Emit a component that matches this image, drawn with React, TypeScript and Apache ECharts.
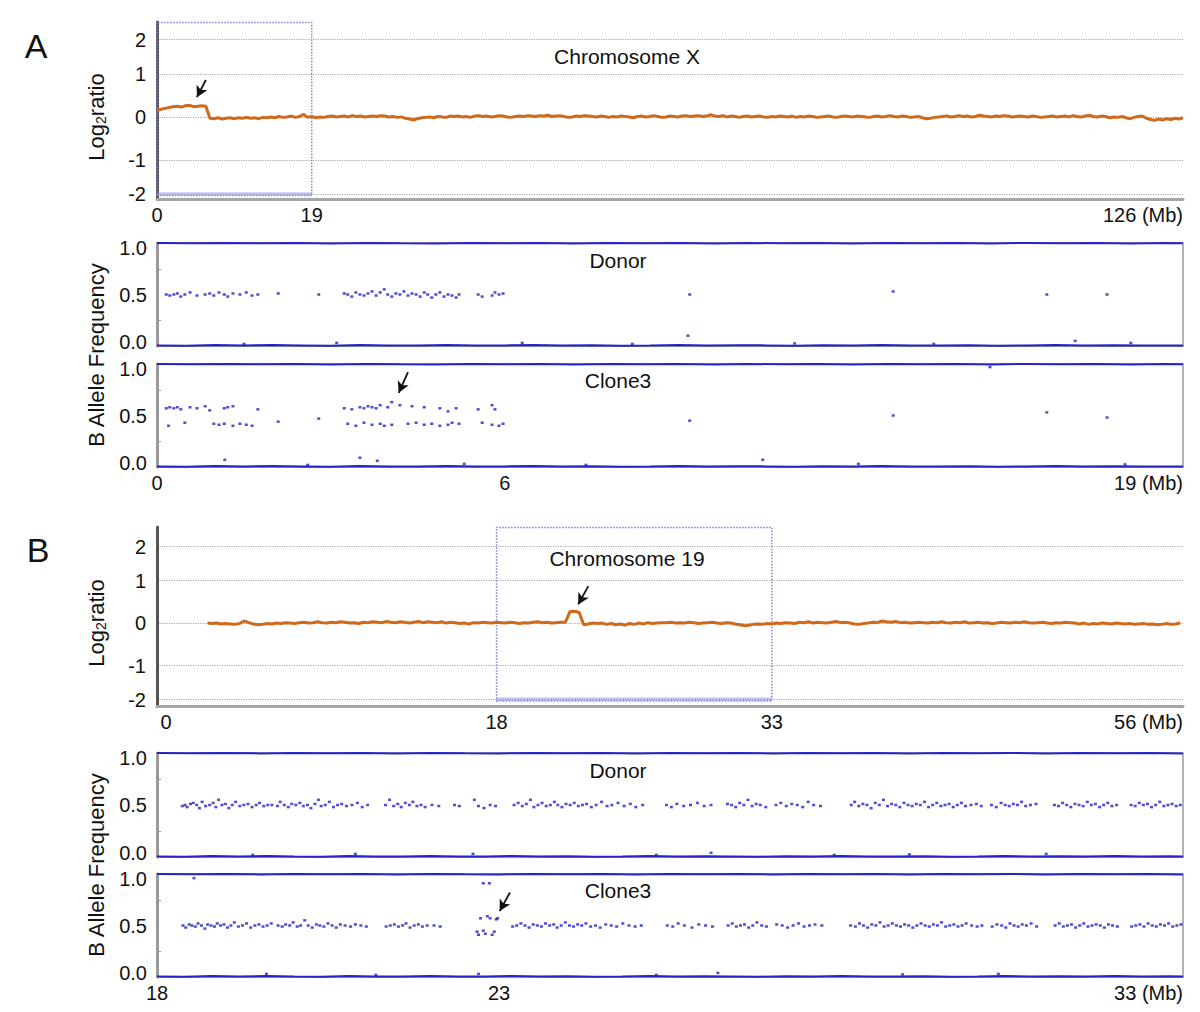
import React, { useEffect, useRef } from 'react';
import * as echarts from 'echarts';

const FONT = '"Liberation Sans", Arial, Helvetica, sans-serif';
const ORANGE = '#cf6a1c';
const BLUE_HOM = '#2424c8';
const BLUE_HET = '#2222c4';
const GRAY_AXIS = '#9a9a9a';

// ---------- Panel A : chromosome X, log2 ratio (positions every 0.5 Mb from 0)
const LOG_A_START = 0;
const LOG_A_STEP = 0.5;
const LOG_A_VALUES = [
  0.15, 0.18, 0.2, 0.22, 0.24, 0.25, 0.23, 0.26, 0.27, 0.24, 0.25, 0.26, 0.25,
  -0.03, -0.04, -0.02, -0.05, -0.03, -0.02, -0.04, -0.02, -0.03, -0.01, -0.03, -0.02, -0.04, -0.01, -0.02, 0.0, -0.02, 0.01, -0.01, 0.0,
  0.02, -0.01, 0.01, 0.06, -0.01, 0.01, -0.02, 0.0, -0.01, 0.01, 0.02, 0.0, 0.01, 0.02, 0.0, 0.03, 0.01, 0.02, 0.0, 0.01,
  0.02, 0.01, 0.03, 0.02, 0.0, 0.01, -0.01, 0.0, -0.03, -0.05, -0.07, -0.04, -0.02, -0.01, 0.0, -0.02, 0.01, 0.0, -0.01, 0.02,
  0.01, 0.02, 0.0, 0.01, -0.01, 0.02, 0.03, 0.01, 0.02, 0.0, 0.01, 0.03, 0.02, 0.0, -0.01, 0.01, 0.02, 0.01, 0.03, 0.02,
  0.01, 0.03, 0.02, 0.04, 0.01, 0.02, 0.03, 0.01, -0.01, 0.0, 0.02, 0.01, 0.03, 0.02, 0.01, 0.0, 0.02, 0.01, -0.01, 0.01,
  0.0, 0.02, 0.01, 0.0, -0.02, 0.01, 0.02, 0.0, 0.01, 0.03, 0.01, -0.01, 0.0, 0.02, 0.01, 0.0, 0.02, 0.03, 0.01, 0.02,
  0.03, 0.01, 0.02, 0.05, 0.02, 0.01, 0.03, 0.0, 0.02, 0.01, -0.01, 0.01, 0.02, 0.0, 0.01, 0.02, 0.0, -0.01, 0.01, 0.0,
  0.02, 0.01, 0.0, 0.02, -0.01, 0.01, 0.0, 0.02, 0.01, -0.01, 0.0, 0.01, 0.02, 0.0, -0.01, 0.01, 0.02, 0.01, 0.0, 0.02,
  0.01, 0.0, -0.01, 0.01, 0.02, 0.0, 0.01, 0.03, 0.01, 0.0, 0.02, 0.01, -0.01, 0.0, 0.01, -0.02, -0.04, -0.03, -0.01, 0.0,
  0.01, 0.02, 0.0, 0.01, 0.03, 0.01, 0.02, 0.0, 0.01, 0.04, 0.02, 0.01, 0.0, 0.02, 0.01, 0.03, 0.02, 0.0, 0.01, 0.02,
  0.01, 0.0, 0.02, 0.01, -0.01, 0.0, 0.01, 0.02, 0.0, 0.01, 0.02, 0.0, 0.03, 0.01, 0.0, 0.02, 0.04, 0.01, 0.0, 0.02,
  0.01, -0.02, 0.0, -0.01, 0.01, -0.02, -0.04, -0.01, 0.01, 0.02, -0.03, -0.06, -0.08, -0.05, -0.07, -0.04, -0.06, -0.03, -0.05, -0.02,
];

// ---------- Panel B : chromosome 19, log2 ratio (positions every 0.25 Mb from 2.25)
const LOG_B_START = 2.25;
const LOG_B_STEP = 0.25;
const LOG_B_VALUES = [
  0.0, -0.01, 0.0, -0.02, -0.01, -0.02, -0.03, -0.01, 0.05, 0.01, -0.02, -0.04, -0.03, -0.01, -0.02, 0.0, -0.01, 0.01, 0.0, -0.01,
  0.01, 0.02, 0.0, 0.01, 0.03, 0.01, 0.0, 0.02, 0.01, 0.03, 0.02, 0.0, 0.01, -0.01, 0.02, 0.01, 0.03, 0.02, 0.01, 0.04,
  0.02, 0.01, 0.03, 0.02, 0.0, 0.02, 0.04, 0.01, 0.03, 0.02, 0.01, 0.03, 0.0, 0.02, 0.01, -0.01, 0.0, -0.02, 0.01, 0.0,
  0.02, 0.01, 0.0, 0.02, 0.01, 0.0, 0.02, 0.01, -0.01, 0.01, 0.0, 0.02, 0.03, 0.01, 0.02, 0.0, 0.01, 0.02, 0.02, 0.27,
  0.28, 0.25, -0.04, -0.02, 0.0, -0.01, 0.0, -0.03, -0.01, -0.04, -0.02, -0.05, -0.01, -0.03, 0.0, -0.02, 0.01, -0.01, 0.0, 0.01,
  0.01, 0.02, 0.0, 0.01, 0.0, 0.02, 0.01, -0.01, 0.0, 0.01, 0.02, 0.0, -0.01, 0.01, 0.0, -0.02, -0.04, -0.06, -0.05, -0.03,
  -0.02, -0.03, -0.01, -0.02, 0.0, -0.01, 0.01, 0.0, -0.01, 0.02, 0.01, 0.03, 0.0, 0.02, 0.01, 0.0, 0.02, 0.04, 0.01, 0.02,
  0.0, -0.02, -0.03, -0.01, 0.0, 0.02, 0.01, 0.05, 0.03, 0.02, 0.04, 0.01, 0.02, 0.0, 0.01, 0.02, 0.01, 0.0, 0.02, 0.01,
  0.03, 0.01, 0.0, 0.02, 0.01, 0.03, 0.0, 0.01, 0.02, 0.0, 0.01, -0.01, 0.0, 0.02, 0.01, 0.0, 0.02, 0.01, 0.03, 0.01,
  0.0, 0.01, 0.02, 0.0, -0.01, 0.01, 0.0, 0.02, 0.01, 0.0, -0.02, 0.0, -0.03, -0.01, -0.02, 0.0, -0.01, -0.02, 0.0, -0.01,
  -0.02, -0.01, -0.03, -0.02, -0.01, -0.03, -0.02, -0.04, -0.03, -0.01, -0.03, -0.02, 0.0,
];

const LOG_TICKS = [-2, -1, 0, 1, 2];
const BAF_TICKS = [0, 0.5, 1];
const BAF_MINOR = [0.25, 0.75];

// ---------- Panel A : B allele frequency (Mb, BAF)
const HOM_X_TOP = [
  [0, 1], [0.6, 0.997], [1.2, 1], [1.8, 0.997], [2.4, 1], [3.0, 0.996], [3.6, 1], [4.2, 0.997], [4.8, 0.996], [5.4, 1],
  [6.0, 0.997], [6.6, 1], [7.2, 0.996], [7.8, 1], [8.4, 0.997], [9.0, 1], [9.6, 0.996], [10.2, 1], [10.8, 0.997], [11.4, 1],
  [12.0, 0.996], [12.6, 1], [13.2, 0.997], [13.8, 1], [14.4, 0.996], [15.0, 1], [15.6, 0.997], [16.2, 1], [16.8, 0.996], [17.4, 1], [17.7, 0.997],
];
const HOM_X_BOT = [
  [0, 0.006], [0.5, 0.003], [1.0, 0.009], [1.5, 0.004], [2.0, 0.01], [2.5, 0.006], [3.0, 0.003], [3.5, 0.009], [4.0, 0.004], [4.5, 0.006],
  [5.0, 0.01], [5.5, 0.004], [6.0, 0.006], [6.5, 0.01], [7.0, 0.004], [7.5, 0.008], [8.0, 0.003], [8.5, 0.006], [9.0, 0.01], [9.5, 0.004],
  [10.0, 0.008], [10.5, 0.006], [11.0, 0.003], [11.5, 0.008], [12.0, 0.006], [12.5, 0.01], [13.0, 0.004], [13.5, 0.006], [14.0, 0.008],
  [14.5, 0.003], [15.0, 0.006], [15.5, 0.01], [16.0, 0.004], [16.5, 0.008], [17.0, 0.006], [17.7, 0.004],
];
const DONOR_A = [
  [0.16, 0.5], [0.22, 0.49], [0.29, 0.5], [0.35, 0.51], [0.41, 0.48], [0.48, 0.5], [0.57, 0.52], [0.69, 0.49], [0.83, 0.5],
  [0.91, 0.51], [0.98, 0.49], [1.07, 0.52], [1.16, 0.5], [1.22, 0.48], [1.31, 0.51], [1.43, 0.5], [1.54, 0.52], [1.64, 0.49], [1.74, 0.5],
  [2.09, 0.51], [2.79, 0.5],
  [3.23, 0.51], [3.29, 0.5], [3.36, 0.48], [3.43, 0.52], [3.5, 0.5], [3.57, 0.49], [3.64, 0.51], [3.71, 0.53], [3.78, 0.49], [3.85, 0.52],
  [3.92, 0.55], [3.98, 0.5], [4.05, 0.48], [4.12, 0.51], [4.19, 0.5], [4.26, 0.53], [4.33, 0.49], [4.4, 0.51], [4.47, 0.5], [4.54, 0.48],
  [4.61, 0.52], [4.67, 0.5], [4.74, 0.47], [4.81, 0.5], [4.88, 0.52], [4.95, 0.48], [5.02, 0.5], [5.09, 0.49], [5.16, 0.47], [5.21, 0.5],
  [5.54, 0.5], [5.61, 0.48], [5.78, 0.49], [5.83, 0.52], [5.9, 0.5], [5.97, 0.51],
  [9.19, 0.5], [12.7, 0.53], [15.35, 0.5], [16.39, 0.5], [9.16, 0.1], [15.84, 0.05],
  [1.5, 0.02], [3.1, 0.03], [6.3, 0.03], [8.2, 0.02], [11.0, 0.025], [13.4, 0.02], [16.8, 0.03],
];
const CLONE3_A = [
  [0.16, 0.57], [0.2, 0.4], [0.22, 0.58], [0.29, 0.57], [0.35, 0.58], [0.41, 0.56], [0.48, 0.43], [0.57, 0.58], [0.69, 0.57],
  [0.83, 0.59], [0.91, 0.55], [0.98, 0.42], [1.07, 0.41], [1.16, 0.57], [1.16, 0.42], [1.22, 0.58], [1.31, 0.59], [1.31, 0.4],
  [1.43, 0.42], [1.54, 0.41], [1.64, 0.4], [1.74, 0.56], [2.09, 0.44], [2.79, 0.47],
  [3.23, 0.57], [3.29, 0.42], [3.36, 0.56], [3.43, 0.4], [3.5, 0.58], [3.57, 0.57], [3.57, 0.43], [3.64, 0.59], [3.71, 0.41],
  [3.71, 0.58], [3.78, 0.57], [3.85, 0.6], [3.85, 0.42], [3.92, 0.4], [3.98, 0.58], [4.05, 0.63], [4.05, 0.41], [4.19, 0.6],
  [4.33, 0.42], [4.4, 0.59], [4.47, 0.43], [4.61, 0.58], [4.61, 0.41], [4.74, 0.42], [4.88, 0.57], [4.88, 0.4], [5.02, 0.54],
  [5.02, 0.41], [5.09, 0.43], [5.16, 0.57], [5.21, 0.42],
  [5.54, 0.56], [5.61, 0.43], [5.78, 0.6], [5.78, 0.41], [5.83, 0.56], [5.9, 0.4], [5.97, 0.42],
  [9.19, 0.45], [12.7, 0.5], [15.35, 0.53], [16.39, 0.48],
  [1.17, 0.07], [3.5, 0.09], [3.8, 0.06], [10.45, 0.07], [14.37, 0.97],
  [2.6, 0.02], [5.3, 0.03], [7.4, 0.02], [12.1, 0.03], [16.7, 0.025],
];

// ---------- Panel B : B allele frequency (Mb, BAF)
const HOM_19_TOP = [
  [18, 1], [18.5, 0.997], [19, 1], [19.5, 0.996], [20, 1], [20.5, 0.997], [21, 1], [21.5, 0.996], [22, 1], [22.5, 0.997],
  [23, 0.996], [23.5, 1], [24, 0.997], [24.5, 1], [25, 0.996], [25.5, 1], [26, 0.997], [26.5, 1], [27, 0.996], [27.5, 1],
  [28, 0.997], [28.5, 1], [29, 0.996], [29.5, 1], [30, 0.997], [30.5, 1], [31, 0.996], [31.5, 1], [32, 0.997], [32.5, 1], [33, 0.996],
];
const HOM_19_BOT = [
  [18, 0.006], [18.4, 0.003], [18.8, 0.009], [19.2, 0.004], [19.6, 0.01], [20, 0.006], [20.4, 0.003], [20.8, 0.009], [21.2, 0.004],
  [21.6, 0.006], [22, 0.01], [22.4, 0.004], [22.8, 0.006], [23.2, 0.01], [23.6, 0.004], [24, 0.008], [24.4, 0.003], [24.8, 0.006],
  [25.2, 0.01], [25.6, 0.004], [26, 0.008], [26.4, 0.006], [26.8, 0.003], [27.2, 0.008], [27.6, 0.006], [28, 0.01], [28.4, 0.004],
  [28.8, 0.006], [29.2, 0.008], [29.6, 0.003], [30, 0.006], [30.4, 0.01], [30.8, 0.004], [31.2, 0.008], [31.6, 0.006], [32, 0.01],
  [32.4, 0.004], [32.8, 0.008], [33, 0.006],
];
const DONOR_B = [
  [18.37, 0.49], [18.41, 0.5], [18.44, 0.48], [18.49, 0.51], [18.53, 0.52], [18.58, 0.5], [18.62, 0.47], [18.66, 0.53], [18.71, 0.49],
  [18.77, 0.5], [18.82, 0.52], [18.86, 0.48], [18.9, 0.55], [18.95, 0.5], [19.0, 0.51], [19.05, 0.47], [19.1, 0.5], [19.15, 0.53],
  [19.21, 0.49], [19.27, 0.5], [19.33, 0.51], [19.39, 0.48], [19.45, 0.5], [19.5, 0.52], [19.56, 0.49], [19.62, 0.5], [19.68, 0.5],
  [19.76, 0.49], [19.8, 0.53], [19.86, 0.5], [19.92, 0.48], [19.97, 0.51], [20.03, 0.5], [20.09, 0.52], [20.14, 0.49], [20.2, 0.5],
  [20.25, 0.47], [20.31, 0.51], [20.36, 0.55], [20.4, 0.49], [20.46, 0.5], [20.52, 0.53], [20.58, 0.48], [20.64, 0.5], [20.7, 0.51],
  [20.77, 0.49], [20.85, 0.5], [20.93, 0.52], [21.0, 0.48], [21.08, 0.5],
  [21.34, 0.5], [21.4, 0.55], [21.46, 0.49], [21.52, 0.51], [21.57, 0.48], [21.63, 0.52], [21.69, 0.5], [21.74, 0.53], [21.8, 0.49],
  [21.86, 0.5], [21.92, 0.48], [22.02, 0.5], [22.12, 0.49], [22.35, 0.5], [22.42, 0.49],
  [22.64, 0.55], [22.7, 0.49], [22.78, 0.47], [22.87, 0.5], [22.95, 0.49],
  [23.22, 0.5], [23.28, 0.52], [23.34, 0.49], [23.4, 0.51], [23.46, 0.55], [23.51, 0.48], [23.57, 0.5], [23.63, 0.52], [23.69, 0.49],
  [23.75, 0.5], [23.81, 0.53], [23.86, 0.5], [23.92, 0.48], [23.98, 0.51], [24.04, 0.5], [24.1, 0.52], [24.16, 0.49], [24.22, 0.5],
  [24.28, 0.51], [24.35, 0.48], [24.42, 0.5], [24.5, 0.53], [24.58, 0.49], [24.65, 0.5], [24.74, 0.52], [24.83, 0.49], [24.92, 0.51],
  [25.0, 0.48], [25.1, 0.5],
  [25.45, 0.5], [25.52, 0.48], [25.6, 0.51], [25.7, 0.49], [25.8, 0.5], [25.9, 0.52], [26.0, 0.49], [26.1, 0.5],
  [26.34, 0.51], [26.4, 0.5], [26.46, 0.48], [26.52, 0.52], [26.58, 0.5], [26.64, 0.55], [26.7, 0.49], [26.76, 0.51], [26.82, 0.5], [26.9, 0.48],
  [27.05, 0.5], [27.12, 0.52], [27.2, 0.49], [27.28, 0.51], [27.36, 0.5], [27.44, 0.48], [27.52, 0.53], [27.6, 0.5], [27.7, 0.49],
  [28.15, 0.5], [28.2, 0.53], [28.26, 0.49], [28.32, 0.51], [28.38, 0.5], [28.44, 0.47], [28.5, 0.52], [28.56, 0.5], [28.62, 0.55],
  [28.68, 0.49], [28.74, 0.51], [28.8, 0.5], [28.86, 0.48], [28.92, 0.52], [28.98, 0.5], [29.04, 0.49], [29.1, 0.51], [29.16, 0.5],
  [29.22, 0.53], [29.28, 0.48], [29.34, 0.5], [29.4, 0.52], [29.46, 0.49], [29.52, 0.5], [29.58, 0.51], [29.64, 0.48], [29.7, 0.5],
  [29.76, 0.52], [29.82, 0.49], [29.9, 0.5], [29.98, 0.51], [30.05, 0.49],
  [30.2, 0.5], [30.27, 0.48], [30.34, 0.52], [30.4, 0.5], [30.46, 0.49], [30.52, 0.51], [30.58, 0.5], [30.64, 0.53], [30.7, 0.49],
  [30.77, 0.5], [30.85, 0.51],
  [31.12, 0.5], [31.18, 0.49], [31.24, 0.52], [31.3, 0.5], [31.36, 0.48], [31.42, 0.51], [31.48, 0.5], [31.54, 0.49], [31.6, 0.53],
  [31.66, 0.5], [31.72, 0.51], [31.78, 0.48], [31.84, 0.5], [31.9, 0.52], [31.96, 0.49], [32.03, 0.5],
  [32.24, 0.5], [32.3, 0.49], [32.36, 0.52], [32.42, 0.5], [32.48, 0.51], [32.54, 0.48], [32.6, 0.5], [32.66, 0.53], [32.72, 0.49],
  [32.78, 0.5], [32.84, 0.51], [32.9, 0.49], [32.96, 0.5],
  [22.62, 0.03], [25.3, 0.02], [26.1, 0.04], [29.0, 0.025], [19.4, 0.02], [20.9, 0.03], [27.9, 0.02], [31.0, 0.03],
];
const CLONE3_B = [
  [18.38, 0.5], [18.42, 0.48], [18.47, 0.51], [18.51, 0.5], [18.56, 0.49], [18.6, 0.52], [18.65, 0.5], [18.7, 0.47], [18.74, 0.51],
  [18.79, 0.5], [18.84, 0.49], [18.88, 0.52], [18.93, 0.5], [18.98, 0.51], [19.03, 0.48], [19.08, 0.5], [19.13, 0.53], [19.19, 0.49],
  [19.25, 0.5], [19.31, 0.52], [19.37, 0.48], [19.43, 0.5], [19.49, 0.51], [19.55, 0.49], [19.61, 0.5], [19.67, 0.52],
  [19.77, 0.5], [19.83, 0.49], [19.88, 0.51], [19.94, 0.5], [19.99, 0.53], [20.05, 0.49], [20.1, 0.5], [20.16, 0.55], [20.21, 0.5],
  [20.27, 0.48], [20.33, 0.51], [20.38, 0.5], [20.44, 0.49], [20.5, 0.52], [20.56, 0.5], [20.62, 0.48], [20.68, 0.51], [20.75, 0.5],
  [20.83, 0.49], [20.9, 0.51], [20.98, 0.5], [21.06, 0.49],
  [21.35, 0.49], [21.41, 0.5], [21.47, 0.51], [21.53, 0.49], [21.59, 0.5], [21.64, 0.52], [21.7, 0.48], [21.76, 0.5], [21.82, 0.51],
  [21.88, 0.49], [21.95, 0.5], [22.05, 0.5], [22.14, 0.49],
  [22.68, 0.44], [22.7, 0.41], [22.73, 0.57], [22.77, 0.45], [22.8, 0.42], [22.83, 0.59], [22.87, 0.57], [22.9, 0.41], [22.93, 0.44],
  [22.96, 0.56], [22.98, 0.57], [22.77, 0.91], [22.86, 0.91],
  [23.2, 0.49], [23.26, 0.5], [23.32, 0.52], [23.38, 0.5], [23.44, 0.48], [23.5, 0.51], [23.56, 0.5], [23.62, 0.49], [23.68, 0.52],
  [23.74, 0.5], [23.8, 0.51], [23.85, 0.48], [23.91, 0.5], [23.97, 0.53], [24.03, 0.5], [24.09, 0.49], [24.15, 0.51], [24.21, 0.5],
  [24.27, 0.52], [24.34, 0.49], [24.41, 0.5], [24.48, 0.48], [24.56, 0.51], [24.64, 0.5], [24.72, 0.49], [24.81, 0.52], [24.9, 0.5],
  [24.99, 0.49], [25.08, 0.5],
  [25.46, 0.5], [25.54, 0.49], [25.62, 0.52], [25.71, 0.5], [25.82, 0.48], [25.92, 0.51], [26.02, 0.5], [26.12, 0.49],
  [26.35, 0.5], [26.41, 0.52], [26.47, 0.49], [26.53, 0.5], [26.59, 0.51], [26.65, 0.48], [26.71, 0.5], [26.77, 0.53], [26.84, 0.5], [26.91, 0.49],
  [27.06, 0.51], [27.14, 0.5], [27.22, 0.48], [27.3, 0.5], [27.38, 0.52], [27.46, 0.49], [27.54, 0.5], [27.62, 0.51], [27.72, 0.5],
  [28.14, 0.5], [28.21, 0.49], [28.27, 0.52], [28.33, 0.5], [28.39, 0.48], [28.45, 0.51], [28.51, 0.5], [28.57, 0.53], [28.63, 0.49],
  [28.69, 0.5], [28.75, 0.52], [28.81, 0.5], [28.87, 0.49], [28.93, 0.51], [28.99, 0.5], [29.05, 0.48], [29.11, 0.5], [29.17, 0.52],
  [29.23, 0.5], [29.29, 0.49], [29.35, 0.51], [29.41, 0.5], [29.47, 0.53], [29.53, 0.49], [29.59, 0.5], [29.65, 0.51], [29.71, 0.49],
  [29.77, 0.5], [29.83, 0.52], [29.91, 0.5], [29.99, 0.49], [30.06, 0.5],
  [30.21, 0.49], [30.28, 0.51], [30.35, 0.5], [30.41, 0.48], [30.47, 0.52], [30.53, 0.5], [30.59, 0.49], [30.65, 0.51], [30.71, 0.5],
  [30.78, 0.52], [30.86, 0.49],
  [31.13, 0.5], [31.19, 0.52], [31.25, 0.49], [31.31, 0.5], [31.37, 0.51], [31.43, 0.48], [31.49, 0.5], [31.55, 0.52], [31.61, 0.49],
  [31.67, 0.5], [31.73, 0.51], [31.79, 0.5], [31.85, 0.48], [31.91, 0.51], [31.97, 0.5], [32.04, 0.49],
  [32.25, 0.49], [32.31, 0.5], [32.37, 0.51], [32.43, 0.49], [32.49, 0.52], [32.55, 0.5], [32.61, 0.49], [32.67, 0.51], [32.73, 0.5],
  [32.79, 0.52], [32.85, 0.49], [32.91, 0.5], [32.97, 0.51],
  [18.54, 0.96], [22.7, 0.03], [25.3, 0.02], [26.2, 0.04], [28.9, 0.025], [19.6, 0.03], [21.2, 0.02], [30.3, 0.03],
];

// ---------- axes ranges and tick labels
const X_A_LOG = { min: 0, max: 126, ticks: [0, 19, 126], texts: ['0', '19', '126 (Mb)'] };
const X_A_BAF = { min: 0, max: 17.7, ticks: [0, 6, 17.7], texts: ['0', '6', '19 (Mb)'] };
const X_B_LOG = { min: -0.5, max: 55.4, ticks: [0, 18, 33, 55.4], texts: ['0', '18', '33', '56 (Mb)'] };
const X_B_BAF = { min: 18, max: 33, ticks: [18, 23, 33], texts: ['18', '23', '33 (Mb)'] };
const BOX_A = [0, 19];
const BOX_B = [18, 33];

// compressed log2 scale beyond |1|
const fLog = (v: number) => (Math.abs(v) <= 1 ? v : Math.sign(v) * (1 + (Math.abs(v) - 1) * 0.8));

function buildOption() {
  const grids = [
    { left: 157, top: 22, width: 1026, height: 177 },
    { left: 157, top: 243, width: 1026, height: 103 },
    { left: 157, top: 364, width: 1026, height: 103 },
    { left: 157, top: 527, width: 1026, height: 179 },
    { left: 157, top: 753, width: 1026, height: 104 },
    { left: 157, top: 874, width: 1026, height: 103 },
  ].map((g, i) => ({
    ...g,
    show: i !== 0 && i !== 3,
    borderColor: GRAY_AXIS,
    borderWidth: 1.5,
    backgroundColor: 'transparent',
  }));

  const xAxis = (gridIndex: number, cfg: any, log: boolean, showLabels = true) => ({
    type: 'value',
    gridIndex,
    min: cfg.min,
    max: cfg.max,
    axisLine: { show: true, onZero: false, lineStyle: { color: log ? '#a5a5a5' : GRAY_AXIS, width: log ? 3 : 2 } },
    axisTick: { show: false },
    splitLine: { show: false },
    axisLabel: {
      show: showLabels,
      customValues: cfg.ticks,
      formatter: (v: number) => {
        const i = cfg.ticks.findIndex((t: number) => Math.abs(t - v) < 1e-6);
        return i >= 0 ? cfg.texts[i] : '';
      },
      alignMinLabel: 'center',
      alignMaxLabel: 'right',
      fontSize: 20,
      fontFamily: FONT,
      color: '#111',
      margin: 6,
    },
  });

  const yLog = (gridIndex: number, min: number, max: number) => ({
    type: 'value',
    gridIndex,
    min,
    max,
    axisLine: { show: true, onZero: false, lineStyle: { color: '#555', width: 3 } },
    axisTick: { show: false, customValues: LOG_TICKS.map(fLog) },
    splitLine: { show: true, lineStyle: { color: '#a8a8a8', type: 'dotted', width: 1.2 } },
    axisLabel: {
      customValues: LOG_TICKS.map(fLog),
      formatter: (v: number) => {
        const t = LOG_TICKS.find((k) => Math.abs(fLog(k) - v) < 1e-6);
        return t === undefined ? '' : String(t);
      },
      fontSize: 20,
      fontFamily: FONT,
      color: '#111',
      margin: 11,
    },
  });

  const labelRich = { fontSize: 20, fontFamily: FONT, color: '#111' };
  const yBaf = (gridIndex: number) => ({
    type: 'value',
    gridIndex,
    min: 0,
    max: 1,
    axisLine: { show: true, lineStyle: { color: GRAY_AXIS, width: 3 } },
    axisTick: { show: true, inside: true, length: 4, customValues: BAF_MINOR, lineStyle: { color: GRAY_AXIS, width: 1 } },
    splitLine: { show: false },
    axisLabel: {
      customValues: BAF_TICKS,
      formatter: (v: number) => {
        const s = v.toFixed(1);
        if (v >= 1) return '{top|' + s + '}';
        if (v <= 0) return '{bot|' + s + '}';
        return '{mid|' + s + '}';
      },
      rich: {
        top: { ...labelRich, padding: [10, 0, 0, 0] },
        bot: { ...labelRich, padding: [0, 0, 8, 0] },
        mid: { ...labelRich },
      },
      margin: 10,
    },
  });

  const logData = (start: number, step: number, vals: number[]) => vals.map((v, i) => [start + i * step, fLog(v)]);

  const arrowLine = (from: number[], to: number[]) => ({
    silent: true,
    symbol: ['none', 'arrow'],
    symbolSize: [9, 11],
    label: { show: false },
    lineStyle: { color: '#111', width: 1.8, type: 'solid' },
    data: [[{ coord: from }, { coord: to }]],
  });

  const boxArea = (x0: number, x1: number, top: number) => ({
    silent: true,
    label: { show: false },
    data: [
      [
        { xAxis: x0, yAxis: fLog(-2) - 0.03, itemStyle: { color: 'rgba(0,0,0,0)', borderColor: '#7f7fe0', borderWidth: 1.5, borderType: 'dotted' } },
        { xAxis: x1, yAxis: top },
      ],
      [
        { xAxis: x0, yAxis: fLog(-2) - 0.03, itemStyle: { color: 'rgba(150,150,230,0.55)', borderWidth: 0 } },
        { xAxis: x1, yAxis: fLog(-2) + 0.05 },
      ],
    ],
  });

  const homLine = (idx: number, data: number[][]) => ({
    type: 'line',
    xAxisIndex: idx,
    yAxisIndex: idx,
    data,
    showSymbol: false,
    clip: false,
    lineStyle: { color: BLUE_HOM, width: 2 },
    silent: true,
    z: 3,
  });
  const het = (idx: number, data: number[][], extra: any = {}) => ({
    type: 'scatter',
    xAxisIndex: idx,
    yAxisIndex: idx,
    data,
    symbol: 'rect',
    symbolSize: [3, 2.5],
    itemStyle: { color: BLUE_HET },
    silent: true,
    z: 4,
    ...extra,
  });

  const series: any[] = [
    {
      type: 'line',
      xAxisIndex: 0,
      yAxisIndex: 0,
      data: logData(LOG_A_START, LOG_A_STEP, LOG_A_VALUES),
      showSymbol: false,
      lineStyle: { color: ORANGE, width: 3 },
      silent: true,
      z: 5,
      markArea: boxArea(BOX_A[0], BOX_A[1], 2.2),
      markLine: arrowLine([6.0, 0.86], [4.9, 0.46]),
    },
    homLine(1, HOM_X_TOP),
    homLine(1, HOM_X_BOT),
    het(1, DONOR_A),
    homLine(2, HOM_X_TOP),
    homLine(2, HOM_X_BOT),
    het(2, CLONE3_A, { markLine: arrowLine([4.33, 0.92], [4.17, 0.72]) }),
    {
      type: 'line',
      xAxisIndex: 3,
      yAxisIndex: 3,
      data: logData(LOG_B_START, LOG_B_STEP, LOG_B_VALUES),
      showSymbol: false,
      lineStyle: { color: ORANGE, width: 3 },
      silent: true,
      z: 5,
      markArea: boxArea(BOX_B[0], BOX_B[1], 2.25),
      markLine: arrowLine([23.0, 0.87], [22.45, 0.44]),
    },
    homLine(4, HOM_19_TOP),
    homLine(4, HOM_19_BOT),
    het(4, DONOR_B),
    homLine(5, HOM_19_TOP),
    homLine(5, HOM_19_BOT),
    het(5, CLONE3_B, { markLine: arrowLine([23.16, 0.82], [23.01, 0.64]) }),
  ];

  const txt = (x: number, y: number, text: string, size = 21, extra: any = {}) => ({
    type: 'text',
    x,
    y,
    silent: true,
    style: { text, fontSize: size, fontFamily: FONT, fill: '#111', align: 'center', verticalAlign: 'middle', ...extra },
  });
  const log2Title = (y: number) => ({
    type: 'text',
    x: 96,
    y,
    rotation: Math.PI / 2,
    silent: true,
    style: {
      text: '{a|Log}{b|2}{a|ratio}',
      align: 'center',
      verticalAlign: 'middle',
      rich: {
        a: { fontSize: 22, fontFamily: FONT, fill: '#111' },
        b: { fontSize: 14, fontFamily: FONT, fill: '#111', padding: [10, 0, 0, 0] },
      },
    },
  });
  const bafTitle = (y: number) => ({
    type: 'text',
    x: 96,
    y,
    rotation: Math.PI / 2,
    silent: true,
    style: { text: 'B Allele Frequency', fontSize: 22, fontFamily: FONT, fill: '#111', align: 'center', verticalAlign: 'middle' },
  });

  return {
    animation: false,
    backgroundColor: '#ffffff',
    grid: grids,
    xAxis: [
      xAxis(0, X_A_LOG, true),
      xAxis(1, X_A_BAF, false, false),
      xAxis(2, X_A_BAF, false),
      xAxis(3, X_B_LOG, true),
      xAxis(4, X_B_BAF, false, false),
      xAxis(5, X_B_BAF, false),
    ],
    yAxis: [yLog(0, -1.91, 2.21), yBaf(1), yBaf(2), yLog(3, -1.95, 2.26), yBaf(4), yBaf(5)],
    series,
    graphic: [
      txt(36, 46, 'A', 34),
      txt(38, 550, 'B', 34),
      txt(627, 56, 'Chromosome X'),
      txt(627, 558, 'Chromosome 19'),
      txt(618, 260, 'Donor'),
      txt(618, 380, 'Clone3'),
      txt(618, 770, 'Donor'),
      txt(618, 890, 'Clone3'),
      log2Title(117),
      log2Title(623),
      bafTitle(355),
      bafTitle(865),
    ],
  };
}

export default function App() {
  const ref = useRef<HTMLDivElement>(null);
  useEffect(() => {
    if (!ref.current) return;
    const chart = echarts.init(ref.current, null, { renderer: 'svg' });
    chart.setOption(buildOption() as any);
    return () => chart.dispose();
  }, []);
  return (
    <div
      ref={ref}
      style={{ position: 'absolute', left: 0, top: 0, width: 1200, height: 1012, background: '#fff' }}
    />
  );
}
